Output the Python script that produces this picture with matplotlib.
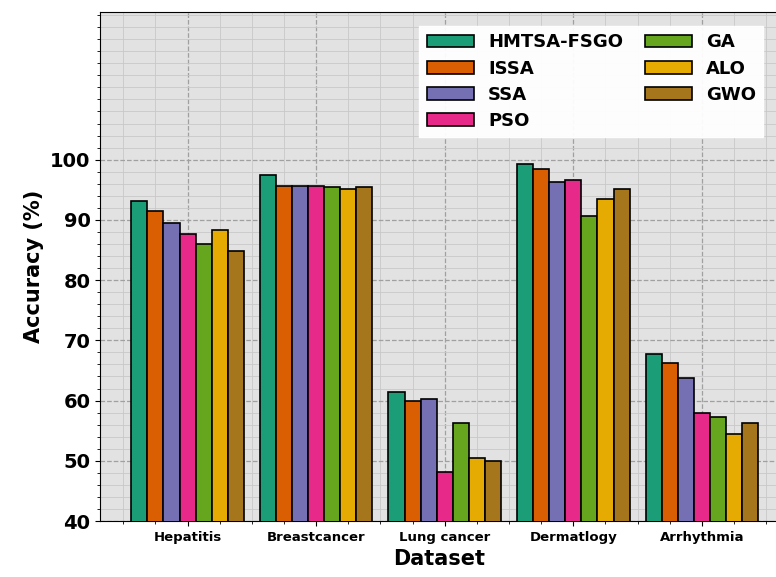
import numpy as np
import matplotlib.pyplot as plt
from matplotlib.ticker import MultipleLocator

datasets = ['Hepatitis', 'Breastcancer', 'Lung cancer', 'Dermatlogy', 'Arrhythmia']
methods = ['HMTSA-FSGO', 'ISSA', 'SSA', 'PSO', 'GA', 'ALO', 'GWO']
colors = ['#1b9e77', '#d95f02', '#7570b3', '#e7298a', '#66a61e', '#e6ab02', '#a6761d']

hmtsa = [93.1, 97.4, 61.5, 99.3, 67.8]
issa = [91.4, 95.7, 59.9, 98.4, 66.2]
ssa = [89.5, 95.7, 60.3, 96.3, 63.8]
pso = [87.6, 95.7, 48.1, 96.7, 57.9]
ga = [86.0, 95.4, 56.3, 90.7, 57.2]
alo = [88.4, 95.2, 50.4, 93.4, 54.4]
gwo = [84.9, 95.4, 50.0, 95.1, 56.2]
series = [hmtsa, issa, ssa, pso, ga, alo, gwo]

fig = plt.figure(figsize=(7.76, 5.77), dpi=100)
ax = fig.add_axes([0.129, 0.097, 0.875, 0.882])
ax.set_facecolor('#e2e2e2')

x = np.arange(len(datasets))
w = 0.125
for i, (vals, name) in enumerate(zip(series, methods)):
    ax.bar(x + (i - 3) * w, vals, w, color=colors[i], edgecolor='black',
           linewidth=1.2, label=name, zorder=3)

ax.set_ylim(40, 124.5)
ax.set_xlim(-0.68, 4.6)
ax.set_yticks([40, 50, 60, 70, 80, 90, 100])
ax.yaxis.set_minor_locator(MultipleLocator(2))
ax.xaxis.set_minor_locator(MultipleLocator(0.25))
ax.set_xticks(x)
ax.set_xticklabels(datasets, fontsize=9.5, fontweight='bold')
for t in ax.get_yticklabels():
    t.set_fontsize(14)
    t.set_fontweight('bold')

ax.grid(which='major', color='#a0a0a0', linestyle='--', linewidth=0.9, zorder=0)
ax.grid(which='minor', color='#c8c8c8', linestyle='-', linewidth=0.6, zorder=0)
ax.set_axisbelow(True)

ax.set_xlabel('Dataset', fontsize=15, fontweight='bold')
ax.set_ylabel('Accuracy (%)', fontsize=15, fontweight='bold')

leg = ax.legend(ncol=2, loc='upper right', bbox_to_anchor=(0.99, 0.99),
                prop={'weight': 'bold', 'size': 13},
                frameon=True, fancybox=False, framealpha=0.95, edgecolor='white',
                handlelength=2.6, columnspacing=1.2, labelspacing=0.45)

plt.savefig('out.png', dpi=100)
